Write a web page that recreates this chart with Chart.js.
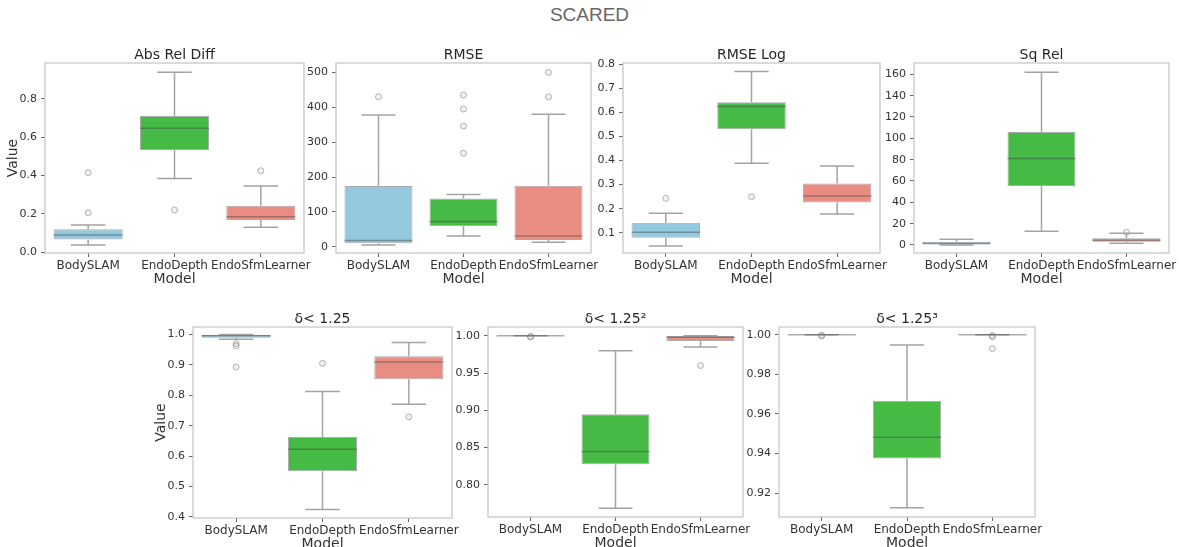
<!DOCTYPE html>
<html>
<head>
<meta charset="utf-8">
<script src="https://cdn.jsdelivr.net/npm/chart.js@4/dist/chart.umd.min.js"></script>
<style>
  body { margin: 0; background: #fff; width: 1179px; height: 547px; overflow: hidden; position: relative; font-family: "DejaVu Sans", sans-serif; }
  #suptitle { position: absolute; left: 0; width: 1179px; top: 4px; text-align: center; font-family: "Liberation Sans", Arial, sans-serif; font-size: 19px; color: #666; }
  canvas { position: absolute; }
</style>
</head>
<body>
<div id="suptitle">SCARED</div>
<script>
// models and panel names
var models = ['BodySLAM', 'EndoDepth', 'EndoSfmLearner'];
var boxColors = ['#93c8de', '#45ba45', '#e98d83'];
var panelTitles = ['Abs Rel Diff', 'RMSE', 'RMSE Log', 'Sq Rel', 'δ< 1.25', 'δ< 1.25²', 'δ< 1.25³'];

// y axis ticks + limits, one row per panel
var yTickLabels = [
    ['0.0', '0.2', '0.4', '0.6', '0.8'],
    ['0', '100', '200', '300', '400', '500'],
    ['0.1', '0.2', '0.3', '0.4', '0.5', '0.6', '0.7', '0.8'],
    ['0', '20', '40', '60', '80', '100', '120', '140', '160'],
    ['0.4', '0.5', '0.6', '0.7', '0.8', '0.9', '1.0'],
    ['0.80', '0.85', '0.90', '0.95', '1.00'],
    ['0.92', '0.94', '0.96', '0.98', '1.00']
];
var yMin = [-0.005, -18, 0.016, -7.5, 0.396, 0.757, 0.908];
var yMax = [0.988, 527, 0.805, 170.6, 1.025, 1.0117, 1.0039];

// box stats per panel: [BodySLAM, EndoDepth, EndoSfmLearner]
var q1 = [
    [0.066, 0.533, 0.167],
    [10, 59, 19],
    [0.079, 0.53, 0.226],
    [0.6, 55.3, 3.1],
    [0.990, 0.55, 0.853],
    [1.0, 0.8278, 0.993],
    [1.0, 0.9375, 1.0]
];
var medians = [
    [0.089, 0.647, 0.185],
    [18, 72, 31],
    [0.102, 0.624, 0.253],
    [1.5, 81, 4.5],
    [0.996, 0.622, 0.91],
    [1.0, 0.8447, 0.998],
    [1.0, 0.9482, 1.0]
];
var q3 = [
    [0.119, 0.711, 0.242],
    [174, 138, 175],
    [0.142, 0.642, 0.305],
    [3.0, 106, 6.3],
    [0.999, 0.663, 0.929],
    [1.0, 0.8947, 0.9996],
    [1.0, 0.9667, 1.0]
];
var whiskerLow = [
    [0.037, 0.385, 0.129],
    [5, 31, 13],
    [0.045, 0.389, 0.178],
    [0.1, 13, 1.6],
    [0.985, 0.424, 0.771],
    [1.0, 0.7688, 0.985],
    [1.0, 0.9127, 1.0]
];
var whiskerHigh = [
    [0.141, 0.94, 0.345],
    [378, 150, 380],
    [0.181, 0.77, 0.377],
    [5.3, 162, 11],
    [1.0, 0.813, 0.974],
    [1.0, 0.98, 1.0],
    [1.0, 0.9948, 1.0]
];
var outliers = [
    [[0.415, 0.205], [0.22], [0.425]],
    [[430], [435, 395, 346, 268], [500, 430]],
    [[0.243], [0.25], []],
    [[], [], [12]],
    [[0.970, 0.963, 0.893], [0.905], [0.729]],
    [[0.9985, 0.999], [], [0.960]],
    [[0.9996, 0.9995], [], [0.9995, 0.999, 0.993]]
];

// plot areas [left, top, right, bottom] in page px
var plotAreas = [
    [45, 63, 304, 253],
    [336, 63, 591, 253],
    [623, 63, 880, 253],
    [914, 63, 1169, 253],
    [193, 327, 452, 518],
    [488, 327, 743, 517],
    [779, 327, 1035, 517]
];

var FONT = '"DejaVu Sans", sans-serif';
var AXIS_W = 45, TOP_PAD = 30, RIGHT_PAD = 14, XAXIS_H = 42;

var boxPlugin = {
    id: 'boxExtras',
    afterDatasetsDraw: function(chart) {
        var p = chart.options.plugins.boxExtras;
        var ctx = chart.ctx, xs = chart.scales.x, ys = chart.scales.y;
        var bars = chart.getDatasetMeta(0).data;
        ctx.save();
        for (var i = 0; i < models.length; i++) {
            var x = xs.getPixelForValue(i);
            var hw = bars[i].width / 2;
            var cap = hw / 2;
            ctx.strokeStyle = '#a3a3a3';
            ctx.lineWidth = 1.5;
            ctx.beginPath();
            ctx.moveTo(x, ys.getPixelForValue(p.q3[i]));
            ctx.lineTo(x, ys.getPixelForValue(p.hi[i]));
            ctx.moveTo(x, ys.getPixelForValue(p.q1[i]));
            ctx.lineTo(x, ys.getPixelForValue(p.lo[i]));
            ctx.moveTo(x - cap, ys.getPixelForValue(p.hi[i]));
            ctx.lineTo(x + cap, ys.getPixelForValue(p.hi[i]));
            ctx.moveTo(x - cap, ys.getPixelForValue(p.lo[i]));
            ctx.lineTo(x + cap, ys.getPixelForValue(p.lo[i]));
            ctx.stroke();
            // median
            ctx.strokeStyle = 'rgba(70,70,70,0.45)';
            ctx.beginPath();
            ctx.moveTo(x - hw, ys.getPixelForValue(p.med[i]));
            ctx.lineTo(x + hw, ys.getPixelForValue(p.med[i]));
            ctx.stroke();
        }
        // axes frame
        var a = chart.chartArea;
        ctx.strokeStyle = '#c4c4c4';
        ctx.lineWidth = 1.2;
        ctx.strokeRect(a.left, a.top, a.right - a.left, a.bottom - a.top);
        // panel title
        ctx.fillStyle = '#262626';
        ctx.font = '14px ' + FONT;
        ctx.textAlign = 'center';
        ctx.textBaseline = 'middle';
        ctx.fillText(p.title, (a.left + a.right) / 2, a.top - 8);
        ctx.restore();
    }
};

function makePanel(k) {
    var area = plotAreas[k];
    var canvas = document.createElement('canvas');
    var w = area[2] - area[0] + AXIS_W + RIGHT_PAD;
    var h = area[3] - area[1] + TOP_PAD + XAXIS_H;
    canvas.width = w;
    canvas.height = h;
    canvas.style.left = (area[0] - AXIS_W) + 'px';
    canvas.style.top = (area[1] - TOP_PAD) + 'px';
    document.body.appendChild(canvas);

    var ranges = models.map(function(m, i) { return [q1[k][i], q3[k][i]]; });
    var points = [];
    outliers[k].forEach(function(list, i) {
        list.forEach(function(v) { points.push({x: models[i], y: v}); });
    });
    var labels = yTickLabels[k];
    var showValue = (k === 0 || k === 4);

    new Chart(canvas, {
        type: 'bar',
        data: {
            labels: models,
            datasets: [
                {
                    type: 'bar',
                    data: ranges,
                    backgroundColor: boxColors,
                    borderColor: '#ababab',
                    borderWidth: 1,
                    borderSkipped: false,
                    barPercentage: 1,
                    categoryPercentage: 0.8
                },
                {
                    type: 'line',
                    data: points,
                    showLine: false,
                    pointRadius: 3,
                    pointBorderWidth: 1,
                    pointBorderColor: 'rgba(100,100,100,0.45)',
                    pointBackgroundColor: 'rgba(200,200,200,0.25)',
                    clip: false
                }
            ]
        },
        options: {
            responsive: false,
            animation: false,
            devicePixelRatio: 1,
            layout: { padding: { top: TOP_PAD, right: RIGHT_PAD, left: 0, bottom: 0 } },
            plugins: {
                legend: { display: false },
                tooltip: { enabled: false },
                boxExtras: {
                    title: panelTitles[k],
                    q1: q1[k], q3: q3[k], med: medians[k],
                    lo: whiskerLow[k], hi: whiskerHigh[k]
                }
            },
            scales: {
                x: {
                    type: 'category',
                    offset: true,
                    grid: { display: true, offset: false, drawOnChartArea: false, drawTicks: true, tickLength: 4, color: '#666' },
                    border: { display: false },
                    ticks: { color: '#333', font: { size: 12, family: FONT }, padding: 2, maxRotation: 0, autoSkip: false },
                    title: { display: true, text: 'Model', color: '#333', font: { size: 14, family: FONT }, padding: { top: 0, bottom: 7 } },
                    afterFit: function(s) { s.height = XAXIS_H; }
                },
                y: {
                    type: 'linear',
                    min: yMin[k],
                    max: yMax[k],
                    grid: { display: true, drawOnChartArea: false, drawTicks: true, tickLength: 4, color: '#666' },
                    border: { display: false },
                    afterBuildTicks: function(s) {
                        s.ticks = labels.map(function(t) { return { value: parseFloat(t) }; });
                    },
                    ticks: {
                        color: '#333',
                        font: { size: 11, family: FONT },
                        padding: 4,
                        callback: function(v, i) { return labels[i]; }
                    },
                    title: { display: showValue, text: 'Value', color: '#333', font: { size: 14, family: FONT }, padding: { top: 5, bottom: 0 } },
                    afterFit: function(s) { s.width = AXIS_W; }
                }
            }
        },
        plugins: [boxPlugin]
    });
}

for (var k = 0; k < plotAreas.length; k++) makePanel(k);
</script>
</body>
</html>
